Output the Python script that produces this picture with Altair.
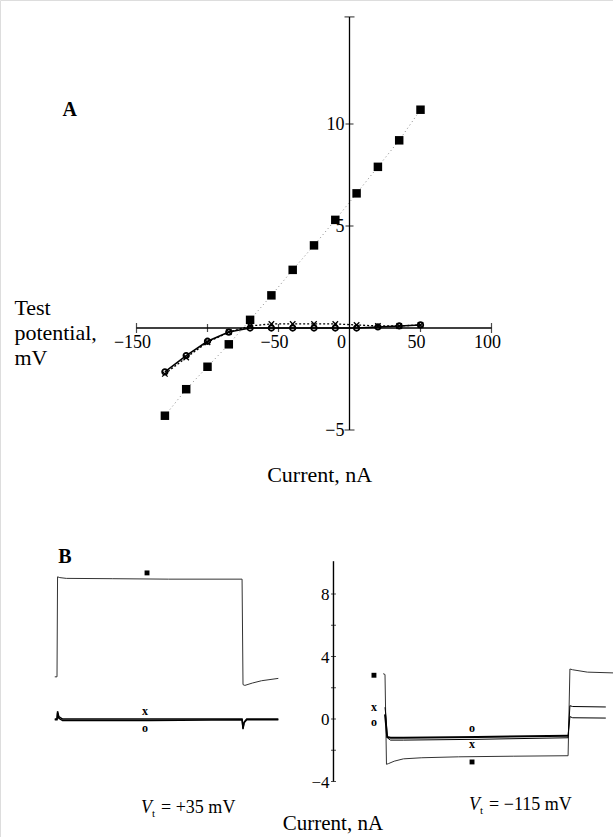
import altair as alt
import pandas as pd

# ---------------- Panel A data ----------------
test_potential = [-130, -115, -100, -85, -70, -55, -40, -25, -10, 5, 20, 35, 50]
current_filled = [-4.3, -3.0, -1.9, -0.8, 0.4, 1.6, 2.85, 4.05, 5.3, 6.6, 7.9, 9.2, 10.7]
current_open = [-2.15, -1.35, -0.65, -0.2, 0.0, 0.0, 0.0, 0.0, 0.0, 0.0, 0.05, 0.1, 0.15]
current_cross = [-2.25, -1.45, -0.7, -0.2, 0.1, 0.2, 0.2, 0.2, 0.2, 0.15, 0.1, 0.1, 0.15]

a_x_ticks = [-100, -50, 50]
a_x_ends = [-150, 100]
a_x_labels = ["\u2212150", "\u221250", "50", "100"]
a_x_label_vals = [-150, -50, 50, 100]
a_y_ticks = [10, 5]
a_y_ends = [15.25, -5]
a_y_labels = ["10", "5", "\u22125"]
a_y_label_vals = [10, 5, -5]

# ---------------- Panel B data (traces) ----------------
# left: V_t = +35 mV  (time in ms-like units, current in nA)
bl_filled_t = [-1.2, 0, 0.3, 1.5, 5, 30, 60, 99.5, 100, 101, 105, 110, 119]
bl_filled_i = [2.7, 2.7, 9.1, 9.05, 9.0, 8.98, 8.95, 8.95, 2.2, 2.15, 2.3, 2.45, 2.6]
bl_x_t = [-1.2, 0, 0.3, 1.0, 3, 50, 99.5, 100, 100.6, 102, 119]
bl_x_i = [0.0, 0.0, 0.5, 0.15, 0.0, 0.0, 0.0, -0.6, -0.2, 0.0, 0.0]
bl_o_t = [-1.2, 0, 0.3, 1.0, 3, 50, 99.5, 100, 100.6, 102, 119]
bl_o_i = [-0.05, -0.05, 0.4, 0.05, -0.1, -0.1, -0.05, -0.65, -0.25, -0.05, -0.05]

# right: V_t = -115 mV
br_filled_t = [-1, 0, 0.8, 2, 5, 10, 20, 40, 70, 99.5, 100.5, 102, 110, 124]
br_filled_i = [2.9, 2.85, -2.9, -2.85, -2.7, -2.55, -2.48, -2.42, -2.38, -2.35, 3.2, 3.15, 3.0, 2.95]
br_x_t = [0, 0.5, 1.2, 3, 10, 50, 99.5, 100.5, 102, 120]
br_x_i = [0.75, 0.2, -1.2, -1.35, -1.35, -1.3, -1.2, 0.85, 0.8, 0.77]
br_o_t = [0, 0.5, 1.2, 3, 10, 50, 99.5]
br_o_i = [0.3, -0.3, -1.15, -1.2, -1.2, -1.15, -1.07]
br_o_tail_t = [99.5, 100.5, 102, 120]
br_o_tail_i = [-1.07, 0.15, 0.08, 0.06]

b_y_ticks = [-4, -2, 0, 2, 4, 6, 8]
b_y_labels = ["8", "4", "0", "\u22124"]
b_y_label_vals = [8, 4, 0, -4]

FONT = "Liberation Serif"

# ---------------- scales ----------------
XA = alt.Scale(domain=[-150, 100], range=[136.5, 491.5], zero=False, nice=False)
YA = alt.Scale(domain=[-5, 15], range=[430, 22], zero=False, nice=False)
XBL = alt.Scale(domain=[0, 100], range=[57, 243], zero=False, nice=False)
XBR = alt.Scale(domain=[0, 100], range=[385, 569], zero=False, nice=False)
YB = alt.Scale(domain=[-4, 8], range=[781.5, 594], zero=False, nice=False)


def enc(xs, ys, xf="x", yf="y", **kw):
    return dict(x=alt.X(f"{xf}:Q", scale=xs, axis=None),
                y=alt.Y(f"{yf}:Q", scale=ys, axis=None), **kw)


layers = []

# ---- Panel A axes ----
layers.append(alt.Chart(pd.DataFrame({"x": [-150], "x2": [100], "y": [0]}))
              .mark_rule(color="black", strokeWidth=1.3)
              .encode(x=alt.X("x:Q", scale=XA, axis=None), x2="x2:Q",
                      y=alt.Y("y:Q", scale=YA, axis=None)))
layers.append(alt.Chart(pd.DataFrame({"x": [0], "y": [-5], "y2": [15.25]}))
              .mark_rule(color="black", strokeWidth=1.3)
              .encode(x=alt.X("x:Q", scale=XA, axis=None),
                      y=alt.Y("y:Q", scale=YA, axis=None), y2="y2:Q"))
layers.append(alt.Chart(pd.DataFrame({"x": a_x_ticks, "y": [0] * len(a_x_ticks)}))
              .mark_tick(orient="vertical", size=8, thickness=1.2, color="black")
              .encode(**enc(XA, YA)))
layers.append(alt.Chart(pd.DataFrame({"x": a_x_ends, "y": [0] * len(a_x_ends)}))
              .mark_tick(orient="vertical", size=10, thickness=1.2, color="black")
              .encode(**enc(XA, YA)))
layers.append(alt.Chart(pd.DataFrame({"x": [0] * len(a_y_ticks), "y": a_y_ticks}))
              .mark_tick(orient="horizontal", size=8, thickness=1.2, color="black")
              .encode(**enc(XA, YA)))
layers.append(alt.Chart(pd.DataFrame({"x": [0] * len(a_y_ends), "y": a_y_ends}))
              .mark_tick(orient="horizontal", size=10, thickness=1.2, color="black")
              .encode(**enc(XA, YA)))
layers.append(alt.Chart(pd.DataFrame({"x": a_x_label_vals, "y": [0] * 4, "t": a_x_labels}))
              .mark_text(font=FONT, fontSize=18, baseline="top", dy=6, dx=-4, color="black")
              .encode(text="t:N", **enc(XA, YA)))
layers.append(alt.Chart(pd.DataFrame({"x": [0], "y": [0], "t": ["0"]}))
              .mark_text(font=FONT, fontSize=18, baseline="top", dy=6, dx=-8, color="black")
              .encode(text="t:N", **enc(XA, YA)))
layers.append(alt.Chart(pd.DataFrame({"x": [0] * 3, "y": a_y_label_vals, "t": a_y_labels}))
              .mark_text(font=FONT, fontSize=18, align="right", baseline="middle", dx=-5, dy=1,
                         color="black")
              .encode(text="t:N", **enc(XA, YA)))

# ---- Panel A data ----
dfA = pd.DataFrame({"x": test_potential, "f": current_filled,
                    "o": current_open, "c": current_cross})
layers.append(alt.Chart(dfA).mark_line(color="#888", strokeWidth=1, strokeDash=[1, 3])
              .encode(**enc(XA, YA, yf="f")))
layers.append(alt.Chart(dfA).mark_line(color="black", strokeWidth=1.3, strokeDash=[2, 2])
              .encode(**enc(XA, YA, yf="c")))
layers.append(alt.Chart(dfA).mark_line(color="black", strokeWidth=1.6)
              .encode(**enc(XA, YA, yf="o")))
layers.append(alt.Chart(dfA).mark_square(color="black", filled=True, size=72, opacity=1)
              .encode(**enc(XA, YA, yf="f")))
layers.append(alt.Chart(dfA).mark_point(shape="M-1,-1L1,1M-1,1L1,-1", color="black",
                                        filled=False, size=30, strokeWidth=1.3, opacity=1)
              .encode(**enc(XA, YA, yf="c")))
layers.append(alt.Chart(dfA).mark_point(shape="circle", color="black", filled=False,
                                        size=30, strokeWidth=1.8, opacity=1)
              .encode(**enc(XA, YA, yf="o")))

# ---- Panel A text ----
layers.append(alt.Chart(pd.DataFrame({"x": [-197], "y": [10.7], "t": ["A"]}))
              .mark_text(font=FONT, fontSize=20, fontWeight="bold", color="black")
              .encode(text="t:N", **enc(XA, YA)))
layers.append(alt.Chart(pd.DataFrame({"x": [-236] * 3, "y": [0.98, -0.25, -1.47],
                                      "t": ["Test", "potential,", "mV"]}))
              .mark_text(font=FONT, fontSize=22, align="left", baseline="middle", color="black")
              .encode(text="t:N", **enc(XA, YA)))
layers.append(alt.Chart(pd.DataFrame({"x": [-21], "y": [-7.2], "t": ["Current, nA"]}))
              .mark_text(font=FONT, fontSize=22, baseline="middle", color="black")
              .encode(text="t:N", **enc(XA, YA)))

# ---- Panel B: right axis (placed at t = -28 in right-panel time) ----
layers.append(alt.Chart(pd.DataFrame({"x": [-28], "y": [-4], "y2": [10.1]}))
              .mark_rule(color="black", strokeWidth=1.4)
              .encode(x=alt.X("x:Q", scale=XBR, axis=None),
                      y=alt.Y("y:Q", scale=YB, axis=None), y2="y2:Q"))
layers.append(alt.Chart(pd.DataFrame({"x": [-28] * len(b_y_ticks), "y": b_y_ticks}))
              .mark_tick(orient="horizontal", size=5, thickness=1, color="black")
              .encode(**enc(XBR, YB)))
layers.append(alt.Chart(pd.DataFrame({"x": [-28] * 4, "y": b_y_label_vals, "t": b_y_labels}))
              .mark_text(font=FONT, fontSize=17, align="right", baseline="middle", dx=-4, dy=1,
                         color="black")
              .encode(text="t:N", **enc(XBR, YB)))

# ---- Panel B traces ----
def trace(ts, vs, xs, width, color="black"):
    return (alt.Chart(pd.DataFrame({"x": ts, "y": vs, "k": list(range(len(ts)))}))
            .mark_line(color=color, strokeWidth=width)
            .encode(order="k:Q", **enc(xs, YB)))

layers.append(trace(bl_filled_t, bl_filled_i, XBL, 1.0, "#333"))
layers.append(trace(bl_x_t, bl_x_i, XBL, 1.4))
layers.append(trace(bl_o_t, bl_o_i, XBL, 1.4))
layers.append(trace(br_filled_t, br_filled_i, XBR, 1.0, "#333"))
layers.append(trace(br_x_t, br_x_i, XBR, 1.0))
layers.append(trace(br_o_t, br_o_i, XBR, 1.9))
layers.append(trace(br_o_tail_t, br_o_tail_i, XBR, 1.0))

# ---- Panel B trace labels ----
bl_lab = pd.DataFrame({"x": [47.3, 47.3], "y": [0.5, -0.55], "t": ["x", "o"]})
br_lab = pd.DataFrame({"x": [-6, -6, 47.3, 47.3], "y": [0.8, -0.2, -0.6, -1.6],
                       "t": ["x", "o", "o", "x"]})
layers.append(alt.Chart(bl_lab).mark_text(font=FONT, fontSize=12, fontWeight="bold", color="black")
              .encode(text="t:N", **enc(XBL, YB)))
layers.append(alt.Chart(br_lab).mark_text(font=FONT, fontSize=12, fontWeight="bold", color="black")
              .encode(text="t:N", **enc(XBR, YB)))
layers.append(alt.Chart(pd.DataFrame({"x": [48.4], "y": [9.35]}))
              .mark_square(color="black", filled=True, size=24, opacity=1)
              .encode(**enc(XBL, YB)))
layers.append(alt.Chart(pd.DataFrame({"x": [-6, 47.3], "y": [2.8, -2.75]}))
              .mark_square(color="black", filled=True, size=24, opacity=1)
              .encode(**enc(XBR, YB)))

# ---- Panel B text ----
layers.append(alt.Chart(pd.DataFrame({"x": [4.3], "y": [10.4], "t": ["B"]}))
              .mark_text(font=FONT, fontSize=20, fontWeight="bold", color="black")
              .encode(text="t:N", **enc(XBL, YB)))


def vt_label(xs, x0, y0, rest):
    df = pd.DataFrame({"x": [x0], "y": [y0]})
    base = alt.Chart(df)
    return [
        base.mark_text(font=FONT, fontSize=18, fontStyle="italic", align="left",
                       baseline="alphabetic", color="black", text="V")
        .encode(**enc(xs, YB)),
        base.mark_text(font=FONT, fontSize=11, align="left", baseline="alphabetic",
                       dx=11, dy=4, color="black", text="t")
        .encode(**enc(xs, YB)),
        base.mark_text(font=FONT, fontSize=18, align="left", baseline="alphabetic",
                       dx=20, color="black", text=rest)
        .encode(**enc(xs, YB)),
    ]


layers += vt_label(XBL, 45.2, -6.0, "=  +35 mV")
layers += vt_label(XBR, 45.7, -5.8, "=  \u2212115 mV")
layers.append(alt.Chart(pd.DataFrame({"x": [-28.3], "y": [-6.75], "t": ["Current, nA"]}))
              .mark_text(font=FONT, fontSize=21, baseline="middle", color="black")
              .encode(text="t:N", **enc(XBR, YB)))

chart = (alt.layer(*layers)
         .resolve_scale(x="independent", y="independent")
         .properties(width=613, height=837, autosize="none", padding=0)
         .configure_view(stroke=None)
         .configure(background="white"))

chart.save("out.html", embed_options={"renderer": "svg", "actions": False})
